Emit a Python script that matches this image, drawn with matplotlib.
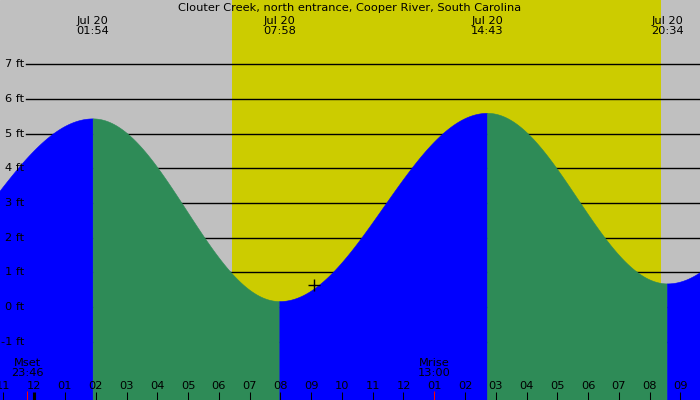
import numpy as np
import matplotlib
matplotlib.use("Agg")
import matplotlib.pyplot as plt
import matplotlib.transforms as mtransforms

# ---------------- data ----------------
title = "Clouter Creek, north entrance, Cooper River, South Carolina"
# tide extremes (hours since midnight Jul 20) and heights (ft); first/last are off-chart
ext_times = [-4.9, 1.9, 7.967, 14.717, 20.567, 26.8]
ext_heights = [0.4, 5.44, 0.17, 5.60, 0.68, 5.3]
ext_labels = ["", "Jul 20\n01:54", "Jul 20\n07:58", "Jul 20\n14:43", "Jul 20\n20:34", ""]
sunrise, sunset = 6.43, 20.37
moon_events = [(-0.233, "Mset\n23:46"), (13.0, "Mrise\n13:00")]
now_time, now_height = 9.1, 0.64
ft_levels = [-1, 0, 1, 2, 3, 4, 5, 6, 7]
hour_ticks = list(range(-1, 22))
hour_labels = ["11", "12", "01", "02", "03", "04", "05", "06", "07", "08", "09", "10",
               "11", "12", "01", "02", "03", "04", "05", "06", "07", "08", "09"]

# ---------------- figure ----------------
W, H = 700, 400
fig = plt.figure(figsize=(7, 4), dpi=100)
ax = fig.add_axes([0, 0, 1, 1])
px_per_h = 30.77
x0 = -34.2 / px_per_h
x1 = (W - 34.2) / px_per_h
px_per_ft = 34.67
ytop = 307 / px_per_ft
ybot = -(H - 307) / px_per_ft
ax.set_xlim(x0, x1)
ax.set_ylim(ybot, ytop)
ax.axis("off")

GRAY = "#c0c0c0"
YELLOW = "#cccc00"
BLUE = "#0000ff"
GREEN = "#2e8b57"
FS = 8.2

ax.add_patch(plt.Rectangle((0, 0), 1, 1, transform=ax.transAxes, color=GRAY, zorder=0))
ax.axvspan(sunrise, sunset, color=YELLOW, zorder=1, lw=0)

# horizontal ft lines
lx0 = x0 + 26 / px_per_h
for lv in ft_levels:
    ax.plot([lx0, x1], [lv, lv], color="black", lw=1.0, zorder=2)
    ax.text(x0 + 24 / px_per_h, lv, f"{lv} ft", ha="right", va="center",
            fontsize=FS, color="black", zorder=6)

# tide curve by cosine interpolation between extremes
for i in range(len(ext_times) - 1):
    ta, tb = ext_times[i], ext_times[i + 1]
    ha, hb = ext_heights[i], ext_heights[i + 1]
    t = np.linspace(ta, tb, 200)
    h = (ha + hb) / 2 + (ha - hb) / 2 * np.cos(np.pi * (t - ta) / (tb - ta))
    col = BLUE if hb > ha else GREEN
    ax.fill_between(t, ybot - 1, h, facecolor=col, edgecolor=col, lw=0.4, zorder=3)

# marker
ax.plot([now_time], [now_height], marker="+", color="black", ms=9, mew=1.0, zorder=7)

trans = mtransforms.blended_transform_factory(ax.transData, ax.transAxes)

# extreme labels at top
for tt, lab in zip(ext_times, ext_labels):
    if lab:
        ax.text(tt, 1 - 26 / H, lab, transform=trans, ha="center", va="center",
                fontsize=FS, linespacing=1.0, zorder=8)
ax.text(0.5, 1 - 8 / H, title, transform=ax.transAxes, ha="center", va="center",
        fontsize=FS, zorder=8)

# hour ticks
for ht, hl in zip(hour_ticks, hour_labels):
    lw = 3 if ht == 0 else 1
    ax.plot([ht, ht], [0, 8 / H], transform=trans, color="black", lw=lw * 0.75,
            zorder=8, solid_capstyle="butt")
    ax.text(ht, 1 - 386 / H, hl, transform=trans, ha="center", va="center",
            fontsize=FS, zorder=8)

# moon events
for mt, ml in moon_events:
    ax.plot([mt, mt], [0, 9 / H], transform=trans, color="red", lw=0.75, zorder=9,
            solid_capstyle="butt")
    ax.text(mt, 1 - 368 / H, ml, transform=trans, ha="center", va="center",
            fontsize=FS, linespacing=1.0, zorder=8)

fig.savefig("out.png", dpi=100)
